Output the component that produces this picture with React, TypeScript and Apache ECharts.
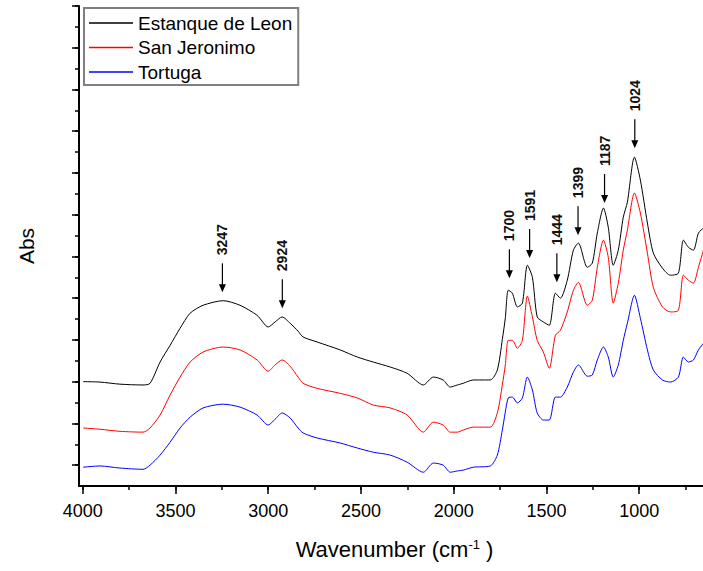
import React, { useEffect, useRef } from 'react';
import * as echarts from 'echarts';

// ---- Data ----
const wavenumbers = [3998, 3907, 3799, 3675, 3637, 3583, 3529, 3475, 3421, 3351, 3243, 3152, 3060, 3000, 2963, 2925, 2882, 2839, 2812, 2736, 2612, 2520, 2434, 2342, 2251, 2164, 2110, 2057, 2019, 1981, 1949, 1895, 1803, 1765, 1738, 1722, 1706, 1684, 1657, 1630, 1603, 1576, 1550, 1517, 1485, 1452, 1425, 1388, 1355, 1328, 1280, 1253, 1226, 1193, 1167, 1140, 1113, 1086, 1064, 1026, 994, 956, 924, 875, 832, 789, 762, 735, 708, 681, 654];

const estanqueDeLeon = [2.00, 1.99, 1.94, 1.92, 1.96, 2.47, 2.87, 3.28, 3.64, 3.83, 3.94, 3.83, 3.59, 3.31, 3.43, 3.55, 3.40, 3.21, 3.07, 2.95, 2.76, 2.59, 2.47, 2.35, 2.20, 1.92, 2.11, 2.04, 1.87, 1.92, 1.96, 2.04, 2.04, 2.28, 3.01, 3.52, 4.19, 4.12, 3.79, 3.88, 4.79, 4.50, 3.55, 3.43, 3.35, 4.12, 4.00, 4.43, 5.15, 5.32, 4.74, 4.84, 5.56, 6.16, 5.70, 4.79, 5.15, 5.94, 6.30, 7.38, 6.83, 5.80, 5.08, 4.72, 4.55, 4.60, 5.39, 5.22, 5.15, 5.56, 5.68];

const sanJeronimo = [0.89, 0.86, 0.81, 0.79, 0.89, 1.20, 1.68, 2.11, 2.47, 2.71, 2.83, 2.76, 2.52, 2.25, 2.40, 2.52, 2.37, 2.11, 1.96, 1.84, 1.72, 1.61, 1.44, 1.37, 1.20, 0.79, 1.03, 0.96, 0.79, 0.79, 0.84, 0.91, 0.91, 1.25, 1.92, 2.40, 2.99, 2.99, 2.80, 2.99, 4.05, 3.55, 2.99, 2.71, 2.32, 3.11, 3.23, 3.67, 4.19, 4.38, 3.83, 3.95, 4.74, 5.39, 4.98, 3.88, 4.36, 5.15, 5.63, 6.52, 6.04, 5.08, 4.26, 3.79, 3.67, 3.71, 4.55, 4.43, 4.36, 4.74, 5.15];

const tortuga = [-0.05, -0.02, -0.07, -0.10, 0.00, 0.24, 0.55, 0.89, 1.15, 1.37, 1.46, 1.39, 1.20, 0.96, 1.10, 1.25, 1.13, 0.89, 0.77, 0.65, 0.53, 0.41, 0.31, 0.24, 0.07, -0.17, 0.05, 0.00, -0.17, -0.14, -0.12, -0.05, -0.02, 0.24, 0.84, 1.27, 1.61, 1.63, 1.49, 1.61, 2.11, 1.80, 1.25, 1.08, 1.08, 1.63, 1.63, 1.87, 2.23, 2.40, 2.13, 2.16, 2.52, 2.83, 2.59, 2.11, 2.40, 2.99, 3.40, 4.07, 3.52, 2.76, 2.28, 2.04, 1.99, 2.11, 2.59, 2.47, 2.52, 2.76, 2.92];

const seriesNames = ['Estanque de Leon', 'San Jeronimo', 'Tortuga'];
const seriesColors = ['#000000', '#ff0000', '#0000ff'];

const peakLabels = ['3247', '2924', '1700', '1591', '1444', '1399', '1187', '1024'];
const peakPositions = [3247, 2924, 1700, 1591, 1444, 1330, 1187, 1024];
const peakArrowTips = [4.14, 3.76, 4.48, 4.96, 4.38, 5.51, 6.28, 7.59];

// lowest tick label that the reference shows
const X_LABEL_FLOOR = 1000;

// ---- Layout ----
const W = 703;
const H = 571;
const FONT = "'Liberation Sans', Arial, sans-serif";
const GRID_LEFT = 79;
const GRID_TOP = 6;
const GRID_BOTTOM = 85;
const GRID_RIGHT = -29;
const X_MIN = 500;
const X_MAX = 4020;
const X_TICK_MAX = 4000;
const Y_MIN = -0.5;
const Y_MAX = 11;

export default function App() {
  const ref = useRef<HTMLDivElement>(null);

  useEffect(() => {
    if (!ref.current) return;
    const chart = echarts.init(ref.current, undefined, { renderer: 'svg' });

    const pxPerX = (W - GRID_LEFT - GRID_RIGHT) / (X_MAX - X_MIN);
    const pxPerY = (H - GRID_TOP - GRID_BOTTOM) / (Y_MAX - Y_MIN);
    const tickGridLeft = GRID_LEFT + (X_MAX - X_TICK_MAX) * pxPerX;
    const tickGridBottom = GRID_BOTTOM + (0 - Y_MIN) * pxPerY;
    const xTickOffset = (0 - Y_MIN) * pxPerY;
    const yTickOffset = tickGridLeft - GRID_LEFT;

    const datasets = [estanqueDeLeon, sanJeronimo, tortuga];

    const lineSeries = datasets.map((vals, k) => ({
      name: seriesNames[k],
      type: 'line',
      xAxisIndex: 0,
      yAxisIndex: 0,
      data: wavenumbers.map((w, i) => [w, vals[i]]),
      showSymbol: false,
      smooth: 0.25,
      itemStyle: { color: seriesColors[k] },
      lineStyle: { color: seriesColors[k], width: 1 },
      z: 3 - k,
    }));

    const annotations = {
      type: 'custom',
      xAxisIndex: 0,
      yAxisIndex: 0,
      silent: true,
      clip: false,
      z: 10,
      data: peakPositions.map((p, i) => [p, peakArrowTips[i]]),
      encode: { x: 0, y: 1 },
      renderItem: (params: any, api: any) => {
        const pt = api.coord([api.value(0), api.value(1)]);
        const x = pt[0];
        const y = pt[1];
        return {
          type: 'group',
          children: [
            {
              type: 'line',
              shape: { x1: x, y1: y - 29, x2: x, y2: y - 6 },
              style: { stroke: '#000', lineWidth: 1.2 },
            },
            {
              type: 'polygon',
              shape: { points: [[x - 3.5, y - 8], [x + 3.5, y - 8], [x, y]] },
              style: { fill: '#000' },
            },
            {
              type: 'text',
              x: x,
              y: y - 37,
              rotation: Math.PI / 2,
              style: {
                text: peakLabels[params.dataIndex],
                fontSize: 14,
                fontWeight: 'bold',
                fontFamily: FONT,
                fill: '#111',
                align: 'left',
                verticalAlign: 'middle',
              },
            },
          ],
        };
      },
    };

    const tickLine = { color: '#000', width: 1.5 };

    const option: any = {
      animation: false,
      backgroundColor: '#ffffff',
      textStyle: { fontFamily: FONT },
      grid: [
        { left: GRID_LEFT, right: GRID_RIGHT, top: GRID_TOP, bottom: GRID_BOTTOM, containLabel: false, outerBoundsMode: 'none' },
        { left: tickGridLeft, right: GRID_RIGHT, top: GRID_TOP, bottom: tickGridBottom, containLabel: false, outerBoundsMode: 'none' },
      ],
      legend: {
        data: seriesNames,
        orient: 'vertical',
        left: 84,
        top: 8,
        icon: 'rect',
        itemWidth: 44,
        itemHeight: 1.5,
        itemGap: 4.5,
        padding: [5, 6, 3, 5],
        borderColor: '#7f7f7f',
        borderWidth: 2,
        textStyle: { fontSize: 19, color: '#000', fontFamily: FONT, lineHeight: 20 },
      },
      xAxis: [
        {
          type: 'value',
          gridIndex: 0,
          position: 'bottom',
          inverse: true,
          min: X_MIN,
          max: X_MAX,
          axisLine: { show: true, onZero: false, lineStyle: { color: '#000', width: 2 } },
          axisTick: { show: false },
          axisLabel: { show: false },
          splitLine: { show: false },
          name: 'Wavenumber (cm{sup|-1} )',
          nameLocation: 'middle',
          nameGap: 52,
          nameTextStyle: {
            fontSize: 22,
            color: '#000',
            fontFamily: FONT,
            padding: [0, 22, 0, 0],
            rich: {
              sup: { fontSize: 13, color: '#000', fontFamily: FONT, verticalAlign: 'top', lineHeight: 12 },
            },
          },
        },
        {
          type: 'value',
          gridIndex: 1,
          position: 'bottom',
          inverse: true,
          min: X_MIN,
          max: X_TICK_MAX,
          interval: 500,
          offset: xTickOffset,
          axisLine: { show: false, onZero: false },
          axisTick: { show: true, length: 8, lineStyle: tickLine },
          axisLabel: {
            show: true,
            fontSize: 18,
            margin: 16,
            color: '#000',
            fontFamily: FONT,
            formatter: (v: number) => (v < X_LABEL_FLOOR ? '' : String(v)),
          },
          splitLine: { show: false },
        },
        {
          type: 'value',
          gridIndex: 1,
          position: 'bottom',
          inverse: true,
          min: X_MIN,
          max: X_TICK_MAX,
          interval: 250,
          offset: xTickOffset,
          axisLine: { show: false, onZero: false },
          axisTick: { show: true, length: 4, lineStyle: tickLine },
          axisLabel: { show: false },
          splitLine: { show: false },
        },
      ],
      yAxis: [
        {
          type: 'value',
          gridIndex: 0,
          position: 'left',
          min: Y_MIN,
          max: Y_MAX,
          axisLine: { show: true, onZero: false, lineStyle: { color: '#000', width: 2 } },
          axisTick: { show: false },
          axisLabel: { show: false },
          splitLine: { show: false },
          name: 'Abs',
          nameLocation: 'middle',
          nameGap: 42,
          nameTextStyle: { fontSize: 21, color: '#000', fontFamily: FONT },
        },
        {
          type: 'value',
          gridIndex: 1,
          position: 'left',
          min: 0,
          max: Y_MAX,
          interval: 1,
          offset: yTickOffset,
          axisLine: { show: false, onZero: false },
          axisTick: { show: true, length: 7, lineStyle: tickLine },
          axisLabel: { show: false },
          splitLine: { show: false },
        },
        {
          type: 'value',
          gridIndex: 1,
          position: 'left',
          min: 0,
          max: Y_MAX,
          interval: 0.5,
          offset: yTickOffset,
          axisLine: { show: false, onZero: false },
          axisTick: { show: true, length: 4, lineStyle: tickLine },
          axisLabel: { show: false },
          splitLine: { show: false },
        },
      ],
      series: [...lineSeries, annotations],
    };

    chart.setOption(option);
    return () => {
      chart.dispose();
    };
  }, []);

  return (
    <div
      ref={ref}
      style={{ position: 'absolute', left: 0, top: 0, width: W, height: H }}
    />
  );
}
